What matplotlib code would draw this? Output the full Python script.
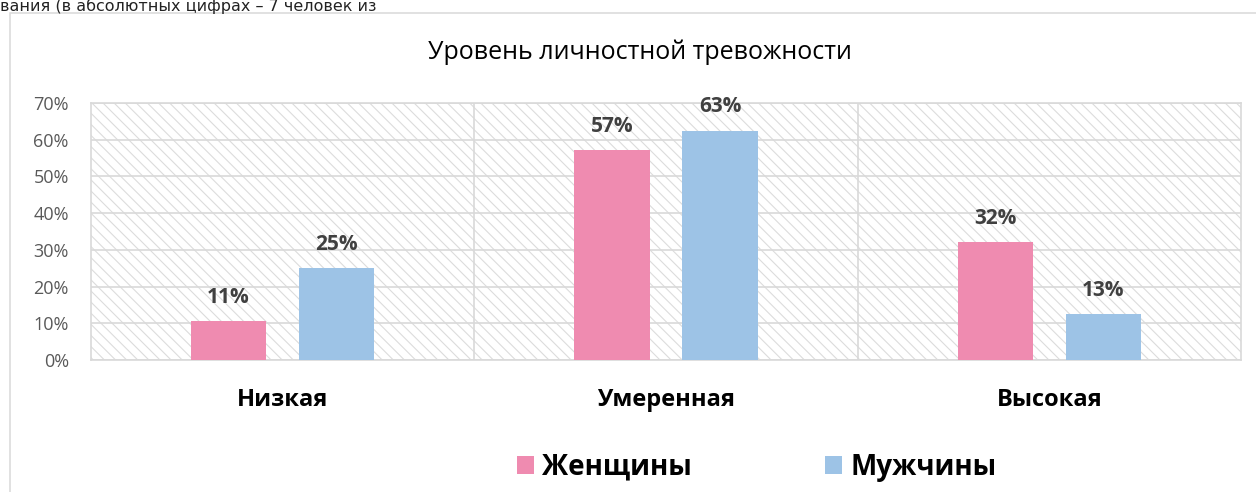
import matplotlib.pyplot as plt
import numpy as np
from matplotlib.patches import Rectangle, Patch

# data
categories = ["Низкая", "Умеренная", "Высокая"]
women = [10.7, 57.2, 32.2]
men = [25.0, 62.5, 12.5]
women_labels = ["11%", "57%", "32%"]
men_labels = ["25%", "63%", "13%"]
series_names = ["Женщины", "Мужчины"]
yticks = [0, 10, 20, 30, 40, 50, 60, 70]

pink = "#EF8BB0"
blue = "#9DC3E6"
grid_c = "#D9D9D9"

plt.rcParams['font.family'] = ['Open Sans', 'DejaVu Sans']
plt.rcParams['hatch.linewidth'] = 0.8

fig = plt.figure(figsize=(12.56, 4.92), dpi=100)
W, H = 1256, 492

# outer chart box (runs off the right/bottom of the picture)
fig.patches.append(Rectangle((10 / W, -0.2), 1.2, 1 - 13 / H + 0.2, transform=fig.transFigure,
                             facecolor="none", edgecolor=grid_c, linewidth=1.1, zorder=0))

# text of the document above the chart
fig.text(0.0, 1 - 11 / H, "вания (в абсолютных цифрах – 7 человек из", fontsize=11.5,
         family=['DejaVu Sans'], color="#222222", ha="left", va="baseline")

ax = fig.add_axes([91 / W, 1 - 360 / H, 1150 / W, 257 / H])

# hatched plot area
ax.add_patch(Rectangle((0, 0), 1, 1, transform=ax.transAxes, facecolor="white",
                       edgecolor="#DCDCDC", linewidth=0, hatch="\\\\\\", zorder=0))

x = np.arange(len(categories))
bw = 0.196
off = 0.141
b1 = ax.bar(x - off, women, bw, color=pink, zorder=3)
b2 = ax.bar(x + off, men, bw, color=blue, zorder=3)

for bars, labs in ((b1, women_labels), (b2, men_labels)):
    for rect, lab in zip(bars, labs):
        ax.annotate(lab, (rect.get_x() + rect.get_width() / 2, rect.get_height()),
                    xytext=(0, 13), textcoords="offset points", ha="center", va="baseline",
                    fontsize=15, fontweight="bold", color="#404040", zorder=4)

ax.set_xlim(-0.5, 2.5)
ax.set_ylim(0, 70)
ax.set_yticks(yticks)
ax.set_yticklabels([f"{v}%" for v in yticks])
ax.set_xticks(x)
ax.set_xticklabels(categories, fontsize=17, fontweight="bold", color="black")
ax.set_xticks([0.5, 1.5], minor=True)
ax.tick_params(axis="y", length=0, pad=16, labelsize=13, labelcolor="#595959")
ax.tick_params(axis="x", which="both", length=0, pad=20)
ax.grid(axis="y", color=grid_c, linewidth=1.2, zorder=1)
ax.grid(axis="x", which="minor", color=grid_c, linewidth=1.2, zorder=1)
ax.set_axisbelow(True)
for sp in ax.spines.values():
    sp.set_color(grid_c)
    sp.set_linewidth(1.2)

fig.text(640 / W, 1 - 52 / H, "Уровень личностной тревожности", fontsize=18,
         ha="center", va="center", color="black")

handles = [Patch(facecolor=pink, edgecolor="none"), Patch(facecolor=blue, edgecolor="none")]
fig.legend(handles, series_names, loc="center", bbox_to_anchor=(757 / W, 1 - 467 / H),
           ncol=2, frameon=False, prop={"size": 20, "weight": "bold"},
           handlelength=0.6, handleheight=0.6, handletextpad=0.3, columnspacing=4.8)

fig.savefig("out.png", dpi=100)
